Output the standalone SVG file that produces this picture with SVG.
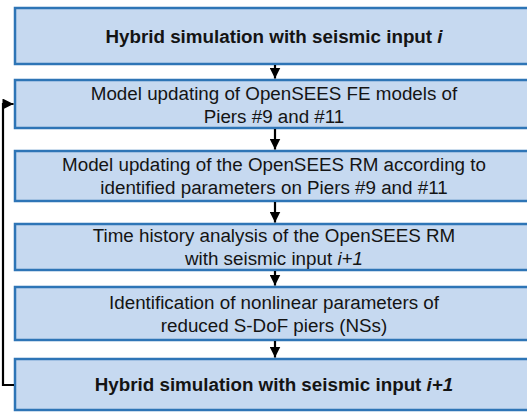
<svg xmlns="http://www.w3.org/2000/svg" width="527" height="412" viewBox="0 0 527 412">
  <style>
    .box { fill: #c6d9f0; stroke: #2e75b6; stroke-width: 2.5; }
    .txt { font-family: "Liberation Sans", Arial, sans-serif; font-size: 18.8px; fill: #141414; text-anchor: middle; }
    .bold { font-weight: bold; }
    .conn { fill: none; stroke: #000; stroke-width: 2.2; }
  </style>
  <defs>
    <marker id="arrow" viewBox="0 0 10 10" refX="10" refY="5" markerWidth="5" markerHeight="5" orient="auto" markerUnits="strokeWidth">
      <path d="M0,0 L10,5 L0,10 Z" fill="#000"/>
    </marker>
  </defs>
  <rect width="527" height="412" fill="#fff"/>

  <g id="n1">
    <rect class="box" x="15" y="8" width="530" height="56"/>
    <text class="txt bold" x="274" y="42.5">Hybrid simulation with seismic input <tspan font-style="italic">i</tspan></text>
  </g>
  <g id="n2">
    <rect class="box" x="15" y="80" width="530" height="48"/>
    <text class="txt" x="274" y="99.5">Model updating of OpenSEES FE models of</text>
    <text class="txt" x="274" y="122.5">Piers #9 and #11</text>
  </g>
  <g id="n3">
    <rect class="box" x="15" y="151" width="530" height="50"/>
    <text class="txt" x="274" y="171">Model updating of the OpenSEES RM according to</text>
    <text class="txt" x="274" y="194">identified parameters on Piers #9 and #11</text>
  </g>
  <g id="n4">
    <rect class="box" x="15" y="224" width="530" height="46"/>
    <text class="txt" x="274" y="242">Time history analysis of the OpenSEES RM</text>
    <text class="txt" x="274" y="265">with seismic input <tspan font-style="italic">i+1</tspan></text>
  </g>
  <g id="n5">
    <rect class="box" x="15" y="287" width="530" height="53"/>
    <text class="txt" x="274" y="308.5">Identification of nonlinear parameters of</text>
    <text class="txt" x="274" y="331.5">reduced S-DoF piers (NSs)</text>
  </g>
  <g id="n6">
    <rect class="box" x="15" y="359" width="530" height="51"/>
    <text class="txt bold" x="274" y="391">Hybrid simulation with seismic input <tspan font-style="italic">i+1</tspan></text>
  </g>

  <g id="connectors">
    <path class="conn" d="M275,65 V78.5" marker-end="url(#arrow)"/>
    <path class="conn" d="M275,129 V149.5" marker-end="url(#arrow)"/>
    <path class="conn" d="M275,202 V222.5" marker-end="url(#arrow)"/>
    <path class="conn" d="M275,271 V285.5" marker-end="url(#arrow)"/>
    <path class="conn" d="M275,341 V357.5" marker-end="url(#arrow)"/>
    <path class="conn" d="M14,385 H3 V104 H13.5" marker-end="url(#arrow)"/>
  </g>
</svg>
